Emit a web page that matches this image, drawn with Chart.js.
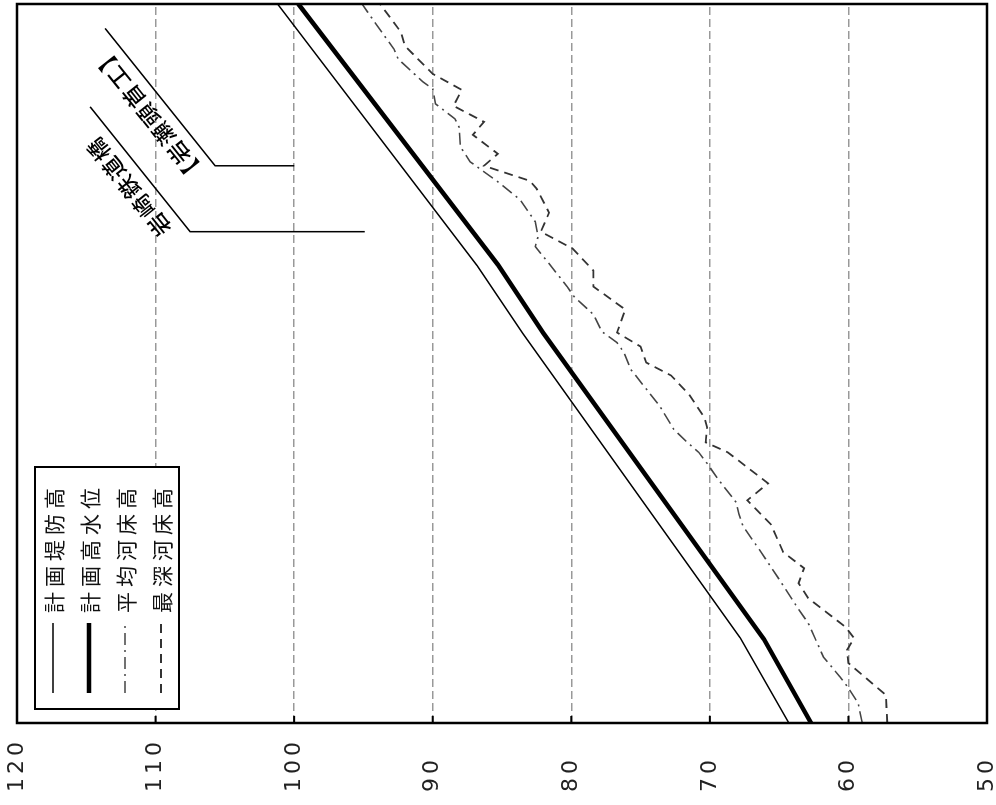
<!DOCTYPE html>
<html lang="ja">
<head>
<meta charset="utf-8">
<title>河床縦断図</title>
<script src="https://cdn.jsdelivr.net/npm/chart.js@4.4.1/dist/chart.umd.min.js"></script>
<style>
  html, body { margin: 0; padding: 0; background: #fff; }
  body { width: 996px; height: 805px; overflow: hidden; position: relative; }
  /* the profile is drawn upright, then turned 90deg to the left */
  #wrap { position: absolute; left: 0; top: 0; width: 805px; height: 996px;
          transform-origin: 0 0; transform: translateY(805px) rotate(-90deg); }
</style>
</head>
<body>
<div id="wrap"><canvas id="profile" width="805" height="996"></canvas></div>
<script>
// elevation ticks
const yTicks = [50, 60, 70, 80, 90, 100, 110, 120];

const seriesNames = ['計画堤防高', '計画高水位', '平均河床高', '最深河床高'];

// distance (arbitrary units, downstream end = 0) and elevation
const leveeX = [0, 8.5, 39.0, 45.8, 72];
const leveeY = [64.3, 67.8, 83.5, 86.8, 101.2];

const hwlX = [0, 8.4, 39.0, 45.9, 72];
const hwlY = [62.7, 66.1, 82.0, 85.3, 99.7];

const avgBedX = [0, 2.0, 3.5, 4.6, 6.6, 10.0, 11.6, 14.6, 17.1, 19.7, 20.9, 22.1, 24.4, 26.0, 27.1,
  28.2, 29.4, 31.7, 35.4, 37.1, 38.1, 39.2, 40.9, 42.7, 43.7, 46.0, 47.7, 48.7, 50.2, 52.4, 54.2,
  55.7, 56.2, 57.7, 59.7, 60.5, 62.0, 63.5, 64.2, 66.5, 67.5, 69.8, 72];
const avgBedY = [59.0, 59.3, 60.0, 60.6, 61.8, 62.9, 63.7, 65.1, 66.3, 67.6, 67.9, 68.1, 69.4, 70.2, 70.8,
  71.7, 72.6, 73.6, 75.7, 76.2, 76.7, 77.8, 78.4, 79.8, 80.3, 81.6, 82.6, 82.4, 82.6, 83.7, 85.3,
  86.8, 87.3, 88.0, 88.1, 88.4, 89.8, 90.0, 90.7, 92.5, 92.8, 94.0, 95.1];

const deepBedX = [0, 2.8, 6.0, 7.3, 8.5, 9.6, 12.5, 14.0, 15.5, 17.1, 19.9, 22.3, 24.0, 27.1, 28.1,
  29.6, 30.6, 32.9, 34.8, 36.1, 37.7, 39.1, 41.4, 43.7, 45.3, 47.5, 49.2, 51.1, 53.5, 54.3, 55.8,
  57.0, 58.9, 60.2, 61.8, 63.4, 65.0, 67.8, 69.2, 72];
const deepBedY = [57.2, 57.3, 60.0, 60.1, 59.6, 60.2, 62.9, 63.6, 63.2, 64.7, 65.6, 67.3, 65.8, 68.7, 70.3,
  70.2, 70.4, 71.5, 72.8, 74.6, 75.0, 76.7, 76.1, 78.4, 78.4, 79.9, 82.2, 81.6, 82.5, 83.0, 86.3,
  85.3, 87.1, 86.3, 88.5, 87.9, 90.0, 92.0, 92.3, 93.8];

// structures along the river
const landmarks = ['【岩瀬頭首工】', '岩崎鉄道橋'];
const landmarkX = [55.8, 49.2];
const landmarkFrom = [100, 94.9];
const landmarkTo = [105.7, 107.5];

const pts = (xs, ys) => xs.map((x, i) => ({ x: x, y: ys[i] }));

const jpFont = '"Noto Sans CJK JP", "Noto Sans CJK SC", sans-serif';

// tick label spacing, frame, inner tick marks, legend box and landmark labels
const drawingExtras = {
  id: 'drawingExtras',
  beforeDraw(chart) {
    chart.ctx.letterSpacing = '4px';
  },
  beforeDatasetsDraw(chart) {
    chart.ctx.letterSpacing = '0px';
  },
  afterDraw(chart) {
    const ctx = chart.ctx;
    const ca = chart.chartArea;
    const xs = chart.scales.x;
    const ys = chart.scales.y;

    ctx.save();
    ctx.letterSpacing = '0px';

    // landmark leaders
    const lens = [176, 160];
    const ang = -38.7 * Math.PI / 180;
    ctx.strokeStyle = '#000';
    ctx.lineWidth = 1.5;
    ctx.fillStyle = '#000';
    landmarks.forEach((name, i) => {
      const px = xs.getPixelForValue(landmarkX[i]);
      const y0 = ys.getPixelForValue(landmarkFrom[i]);
      const y1 = ys.getPixelForValue(landmarkTo[i]);
      const ex = px + Math.cos(ang) * lens[i];
      const ey = y1 + Math.sin(ang) * lens[i];
      ctx.beginPath();
      ctx.moveTo(px, y0);
      ctx.lineTo(px, y1);
      ctx.lineTo(ex, ey);
      ctx.stroke();

      ctx.save();
      ctx.translate(px, y1);
      ctx.rotate(ang);
      ctx.font = '500 22px ' + jpFont;
      ctx.letterSpacing = '2px';
      ctx.textAlign = 'center';
      ctx.textBaseline = 'middle';
      ctx.fillText(name, lens[i] / 2 - 6, -20);
      ctx.restore();
    });

    // legend box
    const lx = ca.left + 14, ly = ca.top + 18, lw = 242, lh = 144;
    ctx.fillStyle = '#fff';
    ctx.fillRect(lx, ly, lw, lh);
    ctx.strokeStyle = '#000';
    ctx.lineWidth = 2;
    ctx.setLineDash([]);
    ctx.strokeRect(lx, ly, lw, lh);

    chart.data.datasets.forEach((ds, i) => {
      const ry = ly + 18 + i * 36;
      ctx.save();
      ctx.strokeStyle = ds.borderColor;
      ctx.lineWidth = ds.borderWidth;
      ctx.setLineDash(ds.borderDash || []);
      ctx.beginPath();
      ctx.moveTo(lx + 16, ry);
      ctx.lineTo(lx + 86, ry);
      ctx.stroke();
      ctx.restore();

      ctx.fillStyle = '#111';
      ctx.font = '21px ' + jpFont;
      ctx.letterSpacing = '5px';
      ctx.textAlign = 'left';
      ctx.textBaseline = 'middle';
      ctx.fillText(ds.label, lx + 96, ry + 1);
      ctx.letterSpacing = '0px';
    });

    // frame and inward ticks
    ctx.strokeStyle = '#000';
    ctx.lineWidth = 2.5;
    ctx.setLineDash([]);
    ctx.strokeRect(ca.left, ca.top, ca.right - ca.left, ca.bottom - ca.top);
    ctx.lineWidth = 2;
    yTicks.forEach(v => {
      const py = ys.getPixelForValue(v);
      ctx.beginPath();
      ctx.moveTo(ca.left, py);
      ctx.lineTo(ca.left + 7, py);
      ctx.stroke();
    });
    ctx.restore();
  }
};

new Chart(document.getElementById('profile'), {
  type: 'line',
  data: {
    datasets: [
      { label: seriesNames[0], data: pts(leveeX, leveeY),
        borderColor: '#000', borderWidth: 1.5 },
      { label: seriesNames[1], data: pts(hwlX, hwlY),
        borderColor: '#000', borderWidth: 4.5 },
      { label: seriesNames[2], data: pts(avgBedX, avgBedY),
        borderColor: '#444', borderWidth: 1.6, borderDash: [12, 5, 2, 5] },
      { label: seriesNames[3], data: pts(deepBedX, deepBedY),
        borderColor: '#333', borderWidth: 1.8, borderDash: [9, 6] }
    ]
  },
  options: {
    responsive: false,
    animation: false,
    events: [],
    layout: { padding: { left: 13, top: 17, right: 4, bottom: 9 } },
    elements: {
      point: { radius: 0 },
      line: { tension: 0, fill: false, borderCapStyle: 'butt' }
    },
    plugins: {
      legend: { display: false },
      tooltip: { enabled: false }
    },
    scales: {
      x: { type: 'linear', min: 0, max: 72, display: false },
      y: {
        min: 50, max: 120,
        afterFit(scale) {
          scale.width = 69;
          scale.paddingTop = 0;
          scale.paddingBottom = 0;
        },
        afterBuildTicks(scale) { scale.ticks = yTicks.map(v => ({ value: v })); },
        ticks: {
          crossAlign: 'far',
          color: '#222',
          font: { family: 'DejaVu Sans', size: 22 }
        },
        grid: { color: '#999', lineWidth: 1.5, drawTicks: false },
        border: { display: false, dash: [8, 4] }
      }
    }
  },
  plugins: [drawingExtras]
});
</script>
</body>
</html>
